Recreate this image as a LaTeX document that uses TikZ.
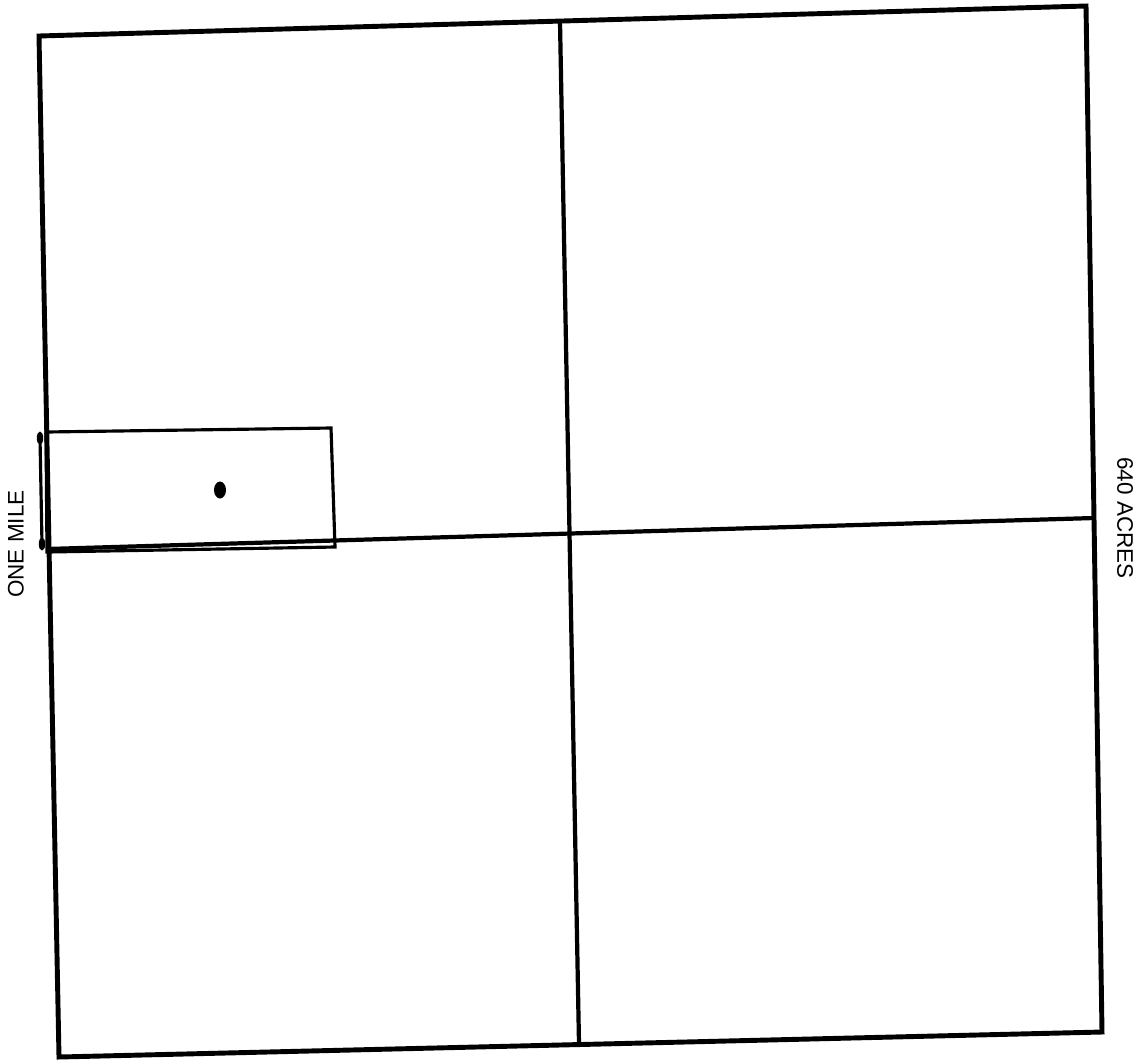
\documentclass[tikz,border=0pt]{standalone}
\usepackage{fontspec}
\setmainfont{Liberation Sans}
\usetikzlibrary{calc}
\tikzset{
  sectionline/.style={line width=2.8pt, line join=miter},
  quarterline/.style={line width=2.4pt},
  parcelbox/.style={line width=1.8pt, line join=miter},
  markline/.style={line width=1.8pt},
  sidelabel/.style={font=\fontsize{12.8}{14}\selectfont, inner sep=0pt}
}

\begin{document}
\begin{tikzpicture}[x=0.02cm, y=-0.02cm,
      sectionline/.style={line width=2.8pt, line join=miter},
      quarterline/.style={line width=2.4pt},
      sidelabel/.style={font=\fontsize{12.8}{14}\selectfont, inner sep=0pt}
    ]
    \useasboundingbox (0,0) rectangle (1135,1059);

    % Section corners
    \coordinate (NW) at (39,36);
    \coordinate (NE) at (1086,6);
    \coordinate (SE) at (1102,1032);
    \coordinate (SW) at (59,1057);
    \draw[sectionline] (NW) -- (NE) -- (SE) -- (SW) -- cycle;

    % Quarter lines
    \coordinate (qN) at (560,22);
    \coordinate (qS) at (579,1044);
    \coordinate (qW) at (47,549);
    \coordinate (qE) at (1094,518);
    \draw[quarterline] (qN) -- (qS);
    \draw[quarterline] (qW) -- (qE);

    % Parcel
    \coordinate (pNW) at (46,432);
    \coordinate (pNE) at (331,428);
    \coordinate (pSE) at (335,547);
    \coordinate (pSW) at (47,552);
    \draw[parcelbox] (pNW) -- (pNE) -- (pSE) -- (pSW) -- cycle;
    \fill (220,490) ellipse (0.12cm and 0.17cm);

    % One mile marker
    \coordinate (mT) at (40,438);
    \coordinate (mB) at (42,544);
    \draw[markline] (mT) -- (mB);
    \fill (mT) ellipse (0.065cm and 0.13cm);
    \fill (mB) ellipse (0.065cm and 0.13cm);

    % Labels
    \node[sidelabel, rotate=90]  (mile)  at (16,544)  {ONE MILE};
    \node[sidelabel, rotate=-90] (acres) at (1125,518) {640 ACRES};
  \end{tikzpicture}
\end{document}
